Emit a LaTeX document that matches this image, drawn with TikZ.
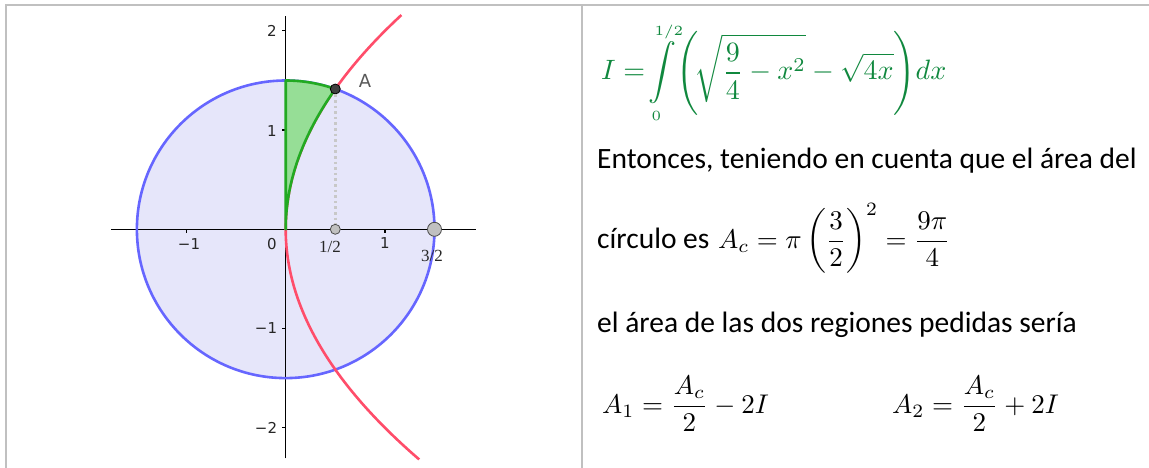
\documentclass[tikz,border=0pt]{standalone}
\usepackage{amsmath}
\usepackage{graphicx}
\usepackage{fontspec}
\newfontfamily\calfont{Carlito}
\newfontfamily\ggbsans{DejaVu Sans}
\newfontfamily\ggbserif{Liberation Serif}
\definecolor{framegray}{RGB}{192,192,192}
\definecolor{dotgray}{RGB}{200,200,200}
\definecolor{circfill}{RGB}{230,230,250}
\definecolor{circblue}{RGB}{102,102,255}
\definecolor{parared}{RGB}{255,77,106}
\definecolor{regfill}{RGB}{150,222,150}
\definecolor{regline}{RGB}{34,170,34}
\definecolor{formgreen}{RGB}{16,136,62}
\definecolor{ptgray}{RGB}{192,192,192}
\definecolor{ptdark}{RGB}{64,64,64}
\tikzset{
  axisline/.style={line width=1.2pt, black},
  ticklab/.style={font=\ggbsans\fontsize{15}{18}\selectfont, text=black!85, inner sep=0},
  ptlab/.style={font=\ggbserif\fontsize{17}{20}\selectfont, text=black!85, inner sep=0},
  bodytext/.style={font=\calfont\fontsize{29.5}{34}\selectfont, anchor=base west, inner sep=0},
  mathtext/.style={anchor=base west, inner sep=0},
  framel/.style={line width=2pt, framegray},
  gpoint/.style={circle, draw=black!70, line width=0.8pt, fill=ptgray, inner sep=0},
}
\begin{document}
\begin{tikzpicture}[x=1pt,y=-1pt]
\useasboundingbox (0,0) rectangle (1149,468);
% frame
\coordinate (f1) at (5.5,468);
\coordinate (f2) at (5.5,5);
\coordinate (f3) at (1149,5);
\coordinate (m1) at (582,5);
\coordinate (m2) at (582,468);
\draw[framel] (f1) -- (f2) -- (f3);
\draw[framel] (m1) -- (m2);
% graph
\begin{scope}[shift={(285.7,229.3)}, x=99.2pt, y=99.2pt]
  \fill[circfill] (0,0) circle[radius=1.5];
  \coordinate (xl) at (-1.76,0);
  \coordinate (xr) at (1.92,0);
  \coordinate (yb) at (0,-2.31);
  \coordinate (yt) at (0,2.15);
  \draw[axisline] (xl) -- (xr);
  \draw[axisline] (yb) -- (yt);
  \foreach \t in {-1,1} \draw[axisline] (\t,0) -- ++(0,-4pt);
  \foreach \t in {-2,-1,1,2} \draw[axisline] (0,\t) -- ++(-4pt,0);
  \draw[circblue, line width=2.6pt] (0,0) circle[radius=1.5];
  \draw[parared, line width=2.6pt] plot[domain=-2.32:2.16, samples=120] ({\x*\x/4},\x);
  \filldraw[fill=regfill, draw=regline, line width=2.6pt, line join=round]
     (0,0) -- (0,1.5) arc[start angle=90, end angle=70.5288, radius=1.5]
     -- plot[domain=1.41421:0, samples=60] ({\x*\x/4},\x) -- cycle;
  \node[gpoint, minimum size=10pt] (P) at (0.5,0) {};
  \node[circle, draw=black, line width=0.8pt, fill=ptdark, inner sep=0, minimum size=10pt] (A) at (0.5,1.41421) {};
  \draw[dotgray, line width=2.6pt, dash pattern=on 2.6pt off 3pt] (A) -- (P);
  \node[gpoint, minimum size=14pt] (Q) at (1.5,0) {};
\end{scope}
% axis labels
\node[ticklab] (lxm1) at (189,244) {−1};
\node[ticklab] (lx0) at (272,244) {0};
\node[ticklab] (lx1) at (385,243) {1};
\node[ptlab] (lhalf) at (330,247) {1/2};
\node[ptlab] (lthree) at (432,256) {3/2};
\node[ticklab] (ly2) at (272,31) {2};
\node[ticklab] (ly1) at (272,131) {1};
\node[ticklab] (lym1) at (266,328) {−1};
\node[ticklab] (lym2) at (266,428) {−2};
\node[font=\ggbsans\fontsize{18}{20}\selectfont, text=black!65, inner sep=0] (lA) at (365,80.5) {A};
% right column
\node[mathtext, text=formgreen] (intI) at (601,80)
  {\scalebox{2.8}{$\displaystyle I=\!\int\limits_{\scriptscriptstyle 0}^{\scriptscriptstyle 1/2}\!\left(\!\sqrt{\frac{9}{4}-x^2}-\sqrt{4x}\right)\!dx$}};
\node[bodytext] (t1) at (597,169) {Entonces, teniendo en cuenta que el área del};
\node[bodytext] (t2) at (597,248) {círculo es};
\node[mathtext] (ac) at (718,248)
  {\scalebox{2.7}{$A_c=\pi\left(\dfrac{3}{2}\right)^2=\dfrac{9\pi}{4}$}};
\node[bodytext] (t3) at (597,332) {el área de las dos regiones pedidas sería};
\node[mathtext] (a1) at (602,413)
  {\scalebox{2.7}{$A_1=\dfrac{A_c}{2}-2I$}};
\node[mathtext] (a2) at (892,413)
  {\scalebox{2.7}{$A_2=\dfrac{A_c}{2}+2I$}};
\end{tikzpicture}
\end{document}
